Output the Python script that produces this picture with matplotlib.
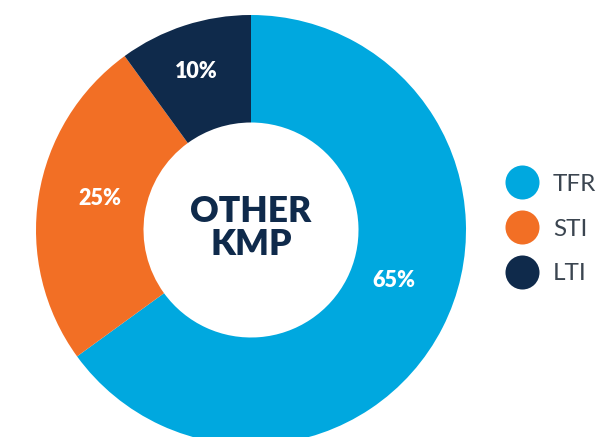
import matplotlib
matplotlib.use("Agg")
import matplotlib.pyplot as plt
from matplotlib.lines import Line2D

categories = ["TFR", "STI", "LTI"]
values = [65, 25, 10]
colors = ["#00A8DF", "#F26F25", "#0F2A4B"]
center_label = "OTHER\nKMP"

plt.rcParams['font.family'] = ['Lato', 'DejaVu Sans']

W, H, dpi = 598, 437, 100
fig = plt.figure(figsize=(W / dpi, H / dpi), dpi=dpi)
ax = fig.add_axes([0, 0, 1, 1])
ax.set_axis_off()

R_px = 215.0
cx, cy = 251.0, 230.0  # from top-left
wedges, texts, autotexts = ax.pie(
    values, colors=colors, startangle=90, counterclock=False, radius=1.0,
    wedgeprops=dict(width=0.5, edgecolor='none', linewidth=0),
    autopct=lambda p: f"{p:.0f}%", pctdistance=0.75,
    textprops=dict(color='white', fontsize=15.5, fontweight='heavy'))
ax.set_xlim(-cx / R_px, (W - cx) / R_px)
ax.set_ylim(-(H - cy) / R_px, cy / R_px)
ax.set_aspect('equal')

# label placement (layout) in units of outer radius
label_pos = [(0.665, -0.235), (-0.705, 0.145), (-0.255, 0.735)]
for t, p in zip(autotexts, label_pos):
    t.set_position(p)

ax.text(0, 0.01, center_label, ha='center', va='center', fontsize=25.5,
        fontweight='heavy', color='#0F2A4B', linespacing=1.02)

handles = [Line2D([], [], marker='o', linestyle='none', markersize=24.5,
                  markerfacecolor=c, markeredgecolor='none') for c in colors]
leg = fig.legend(handles, categories, loc='center left',
                 bbox_to_anchor=(495 / W, 1 - 229 / H), frameon=False,
                 fontsize=17.5, labelcolor='#3B4550', handlelength=1.2,
                 handletextpad=0.68, labelspacing=0.97, borderpad=0)

fig.savefig("out.png", dpi=dpi)
